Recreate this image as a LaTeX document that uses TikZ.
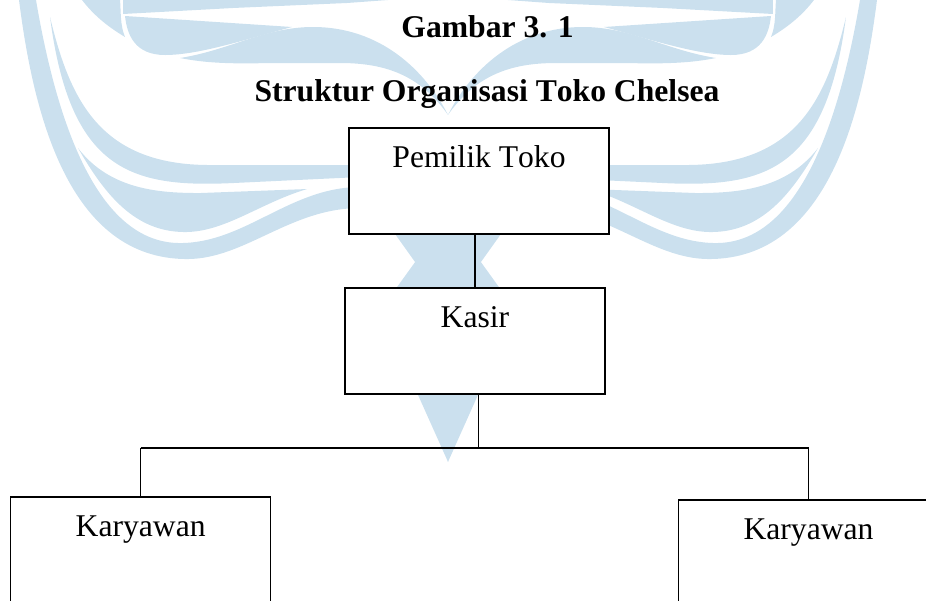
\documentclass[tikz,border=0pt]{standalone}
\usepackage{fontspec}
\setmainfont{Liberation Serif}
\usetikzlibrary{positioning}
\definecolor{biru}{HTML}{CBE0EE}
\tikzset{
    kotak/.style={draw,fill=white,line width=0.7pt,inner ysep=0pt,minimum width=5.2cm,text height=0.79cm,text depth=1.33cm,font=\fontsize{18}{22}\selectfont},
    judul/.style={anchor=base,font=\fontsize{18}{22}\selectfont\bfseries},
    garis/.style={line width=0.6pt}
}
\newcommand{\sayap}{
    \fill[biru] (19,0) .. controls (33,110) and (67,259) .. (187,259) .. controls (245,259) and (290,208) .. (360,208) -- (360,187) .. controls (290,187) and (245,243) .. (180,243) .. controls (100,243) and (58,130) .. (36,0) -- cycle;
    \fill[biru] (50,17) .. controls (70,100) and (100,165) .. (210,165) -- (360,165) -- (360,177) -- (233,183) .. controls (130,188) and (70,170) .. (50,17) -- cycle;
    \fill[biru] (78,148) .. controls (110,190) and (160,193) .. (200,193) -- (307,189) .. controls (260,203) and (225,232) .. (185,232) .. controls (135,232) and (105,195) .. (78,148) -- cycle;
    \fill[biru] (82,0) .. controls (95,17) and (110,28) .. (125,37) .. controls (120,25) and (121,12) .. (120,0) -- cycle;
    \fill[biru] (123,0) -- (388,0) -- (347,3) -- (233,8) -- (123,14) -- cycle;
    \fill[biru] (125,16) -- (292,27) .. controls (250,38) and (200,55) .. (165,55) .. controls (135,55) and (127,35) .. (125,16) -- cycle;
    \fill[biru] (180,58) .. controls (230,50) and (265,27) .. (313,27) .. controls (380,27) and (425,70) .. (448,115) .. controls (420,75) and (385,63) .. (340,63) -- (270,63) .. controls (230,64) and (205,63) .. (180,58) -- cycle;
    \fill[biru] (395,234) -- (415,262) -- (397,287) -- (390,300) -- (400,350) -- (418,395) -- (448,462) -- (448,234) -- cycle;
}

\begin{document}
\begin{tikzpicture}
    \path[use as bounding box,clip] (0,0) rectangle (18.52,12);
    % tanda air
    \begin{scope}[x=0.02cm,y=-0.02cm,shift={(0cm,12cm)}]
        \sayap
    \end{scope}
    \begin{scope}[x=-0.02cm,y=-0.02cm,shift={(17.92cm,12cm)}]
        \sayap
    \end{scope}
    \node[judul] (gambar) at (9.75,11.24) {Gambar 3. 1};
    \node[judul] (struktur) at (9.74,9.966) {\addfontfeature{Kerning=Off}Struktur Organisasi Toko Chelsea};
    \node[kotak] (pemilik) at (9.58,8.38) {\addfontfeature{Kerning=Off}Pemilik Toko};
    \node[kotak] (kasir) at (9.5,5.18) {Kasir};
    \node[kotak] (karyawanA) at (2.814,1.0) {Karyawan};
    \node[kotak] (karyawanB) at (16.17,0.94) {Karyawan};
    \coordinate (cabang) at (9.566,3.04);
    \coordinate (kiri) at (karyawanA.north |- cabang);
    \coordinate (kanan) at (karyawanB.north |- cabang);
    \draw[garis] (kasir.north |- pemilik.south) -- (kasir.north);
    \draw[garis] (cabang |- kasir.south) -- (cabang);
    \draw[garis] (kiri) -- (kanan);
    \draw[garis] (kiri) -- (karyawanA.north);
    \draw[garis] (kanan) -- (karyawanB.north);
\end{tikzpicture}
\end{document}
